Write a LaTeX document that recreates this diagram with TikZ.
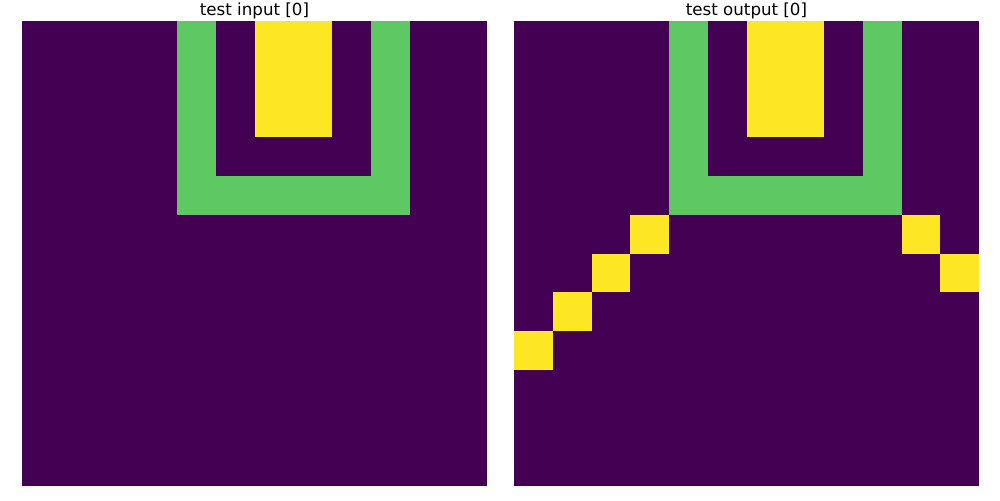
\documentclass[tikz,border=0pt]{standalone}
\usepackage{fontspec}
\setmainfont{DejaVu Sans}
\definecolor{vpurple}{HTML}{440154}
\definecolor{vgreen}{HTML}{5EC962}
\definecolor{vyellow}{HTML}{FDE725}
\def\cs{38.75}
\begin{document}
\begin{tikzpicture}[x=0.72pt,y=-0.72pt,
  titlestyle/.style={anchor=base,font=\fontsize{12pt}{14pt}\selectfont,inner sep=0pt}]
\useasboundingbox (0,0) rectangle (1000,500);
% cell block: origin x, col0, row0, ncols, nrows, color
\newcommand\blockfill[6]{\fill[#6] ({#1+#2*\cs},{21+#3*\cs}) rectangle ++({#4*\cs},{#5*\cs});}
\foreach \ox in {22,514}{
  \blockfill{\ox}{0}{0}{12}{12}{vpurple}
  \blockfill{\ox}{4}{0}{1}{5}{vgreen}
  \blockfill{\ox}{9}{0}{1}{5}{vgreen}
  \blockfill{\ox}{4}{4}{6}{1}{vgreen}
  \blockfill{\ox}{6}{0}{2}{3}{vyellow}
}
\blockfill{514}{3}{5}{1}{1}{vyellow}
\blockfill{514}{2}{6}{1}{1}{vyellow}
\blockfill{514}{1}{7}{1}{1}{vyellow}
\blockfill{514}{0}{8}{1}{1}{vyellow}
\blockfill{514}{10}{5}{1}{1}{vyellow}
\blockfill{514}{11}{6}{1}{1}{vyellow}
\node[titlestyle] (tin) at (254.5,15) {test input [0]};
\node[titlestyle] (tout) at (746.5,15) {test output [0]};
\end{tikzpicture}
\end{document}
